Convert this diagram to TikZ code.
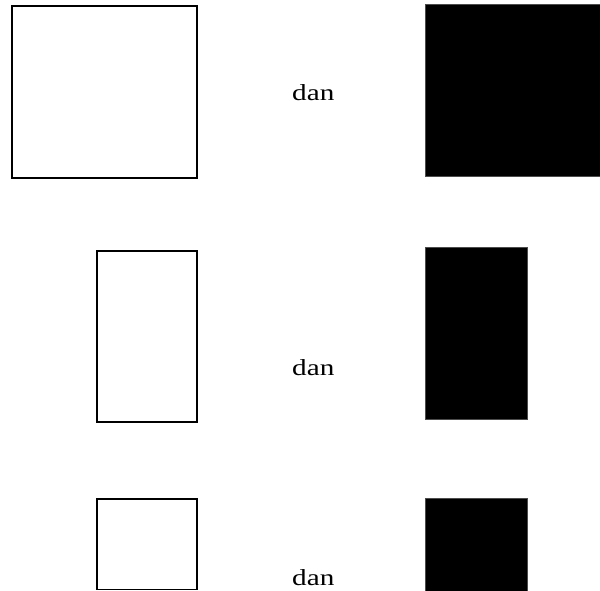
\documentclass[tikz,border=0pt]{standalone}
\usepackage{fontspec}
\newfontfamily\tnr{Liberation Serif}
\begin{document}
\begin{tikzpicture}[x=1pt,y=-1pt,
  openbox/.style={draw=black,line width=1.3pt,fill=white},
  solidbox/.style={fill=black,draw=black!70,line width=0.5pt},
  word/.style={anchor=base west,inner sep=0pt,font=\tnr\fontsize{23}{27}\selectfont}]
\useasboundingbox (0,0) rectangle (600,590);
\clip (0,0) rectangle (600,590);
\path[openbox] (12,6) rectangle (197,178) node[midway] (o1) {};
\path[solidbox] (425,4) rectangle (602,176) node[midway] (s1) {};
\node[word] (t1) at (292,100) {\scalebox{1.27}[1]{dan}};
\path[openbox] (97,251) rectangle (197,422) node[midway] (o2) {};
\path[solidbox] (425,247) rectangle (527,419) node[midway] (s2) {};
\node[word] (t2) at (292,375) {\scalebox{1.27}[1]{dan}};
\path[openbox] (97,499) rectangle (197,589.5) node[midway] (o3) {};
\path[solidbox] (425,498) rectangle (527,595) node[midway] (s3) {};
\node[word] (t3) at (292,585) {\scalebox{1.27}[1]{dan}};
\end{tikzpicture}
\end{document}
